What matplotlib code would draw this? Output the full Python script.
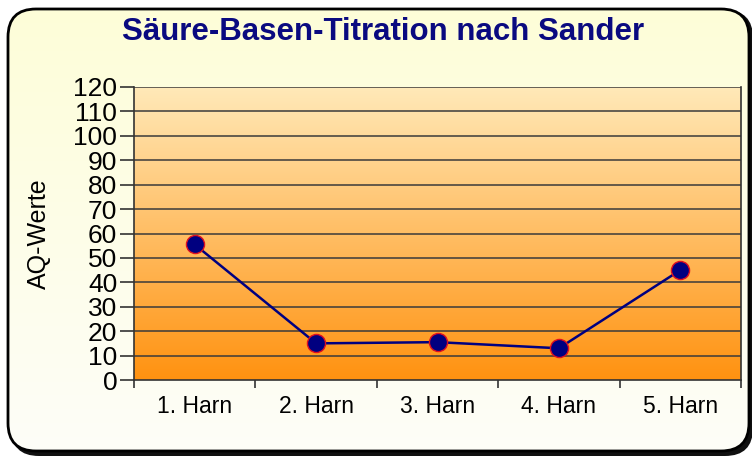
import numpy as np
import matplotlib
matplotlib.use("Agg")
import matplotlib.pyplot as plt
from matplotlib.patches import FancyBboxPatch
from matplotlib.colors import LinearSegmentedColormap

categories = ["1. Harn", "2. Harn", "3. Harn", "4. Harn", "5. Harn"]
values = [55.5, 15, 15.5, 13, 45]
yticks = list(range(0, 121, 10))
title = "Säure-Basen-Titration nach Sander"
ylabel = "AQ-Werte"

plt.rcParams['font.family'] = ['Liberation Sans', 'DejaVu Sans']

fig = plt.figure(figsize=(7.52, 4.57), dpi=100)
W, H = 752, 457

# outer background with rounded border
bg_ax = fig.add_axes([0, 0, 1, 1])
bg_ax.set_xlim(0, W)
bg_ax.set_ylim(0, H)
bg_ax.axis('off')
fig.patch.set_facecolor('white')
shadow = FancyBboxPatch((11, 1), W - 10, H - 11, boxstyle="round,pad=0,rounding_size=28",
                        facecolor='#101010', edgecolor='none')
bg_ax.add_patch(shadow)
grad_bg = np.linspace(0, 1, 256).reshape(-1, 1)
cmap_bg = LinearSegmentedColormap.from_list('bg', ['#fdfdf8', '#fefed8'])
img = bg_ax.imshow(grad_bg, extent=[8, W - 3, 6, H - 9], origin='lower', cmap=cmap_bg,
                   aspect='auto', zorder=1)
frame = FancyBboxPatch((8, 6), W - 11, H - 15, boxstyle="round,pad=0,rounding_size=28",
                       facecolor='none', edgecolor='black', linewidth=2, zorder=2)
bg_ax.add_patch(frame)
img.set_clip_path(frame)

# plot area
left, right, top, bottom = 134, 741, 87, 380
ax = fig.add_axes([left / W, 1 - bottom / H, (right - left) / W, (bottom - top) / H])
ax.set_xlim(0, len(categories))
ax.set_ylim(0, 120)
grad = np.linspace(0, 1, 256).reshape(-1, 1)
cmap = LinearSegmentedColormap.from_list('pl', ['#ff9210', '#ffe9b8'])
ax.imshow(grad, extent=[0, len(categories), 0, 120], origin='lower', cmap=cmap,
          aspect='auto', zorder=0)
for y in yticks[1:]:
    ax.axhline(y, color='#3a3a3a', linewidth=1.1, zorder=1)

x = np.arange(len(categories)) + 0.5
ax.plot(x, values, color='#000080', linewidth=1.8, zorder=3)
ax.scatter(x, values, s=170, facecolor='#000080', edgecolor='#e01020', linewidth=1.0, zorder=4)

ax.set_yticks(yticks)
ax.set_yticklabels([str(v) for v in yticks], fontsize=19)
ax.set_xticks(np.arange(len(categories) + 1), minor=False)
ax.set_xticklabels([])
ax.set_xticks(x, minor=True)
ax.set_xticklabels(categories, minor=True, fontsize=16.5)
ax.tick_params(axis='x', which='minor', length=0, pad=11)
ax.tick_params(axis='x', which='major', length=6, direction='out', color='#333333', width=1.2)
ax.tick_params(axis='y', length=10, direction='out', color='#333333', width=1.2, pad=2)
for s in ['left', 'bottom', 'right']:
    ax.spines[s].set_color('#333333')
    ax.spines[s].set_linewidth(1.2)
ax.spines['top'].set_visible(False)
ax.set_ylabel(ylabel, fontsize=18, labelpad=16)

fig.text(383 / W, 1 - 32 / H, title, fontsize=22.5, fontweight='bold', color='#0a0a80',
         ha='center', va='center')

fig.savefig('out.png', dpi=100)
